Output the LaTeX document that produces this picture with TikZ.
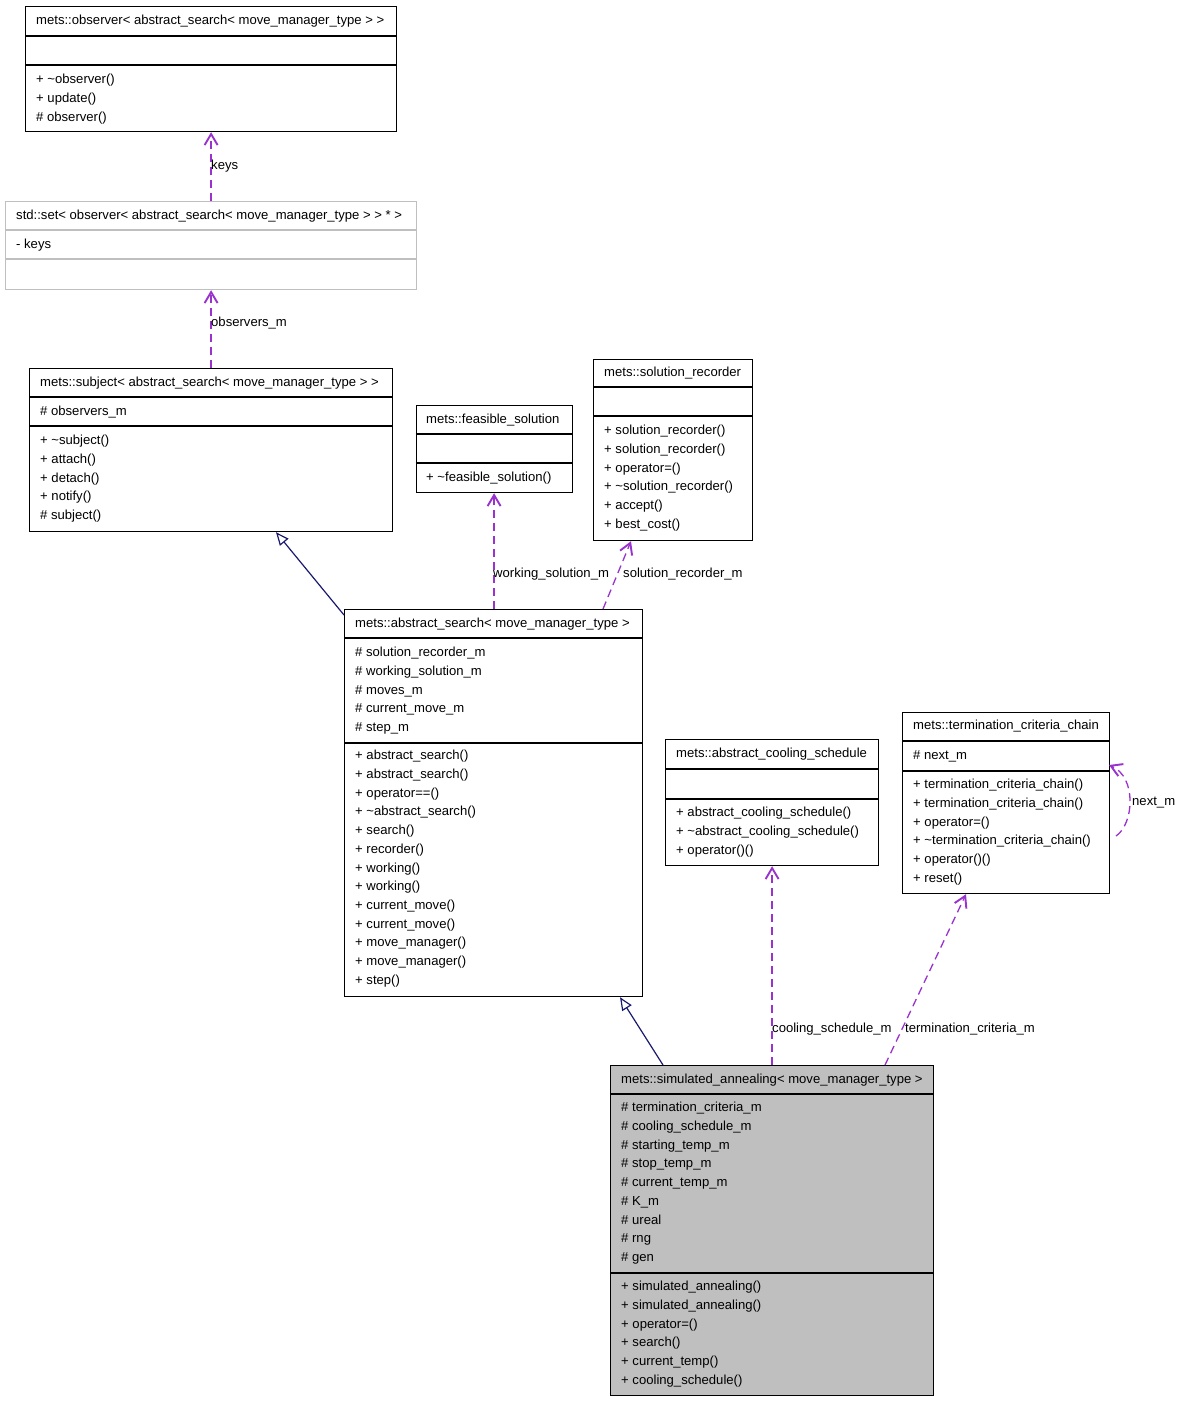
\documentclass[tikz,border=0pt]{standalone}
\usepackage{fontspec}
\setmainfont{Liberation Sans}
\usetikzlibrary{arrows.meta}
\definecolor{deppurple}{HTML}{9A32CD}
\definecolor{inhnavy}{HTML}{191970}
\definecolor{boxgray}{HTML}{BFBFBF}
\tikzset{
  classbox/.style={draw=black, line width=1.2pt, rectangle, inner sep=0pt, anchor=north west},
  graybox/.style={classbox, draw=boxgray},
  sepline/.style={line width=1.2pt, black},
  graysep/.style={line width=1.2pt, boxgray},
  txt/.style={anchor=west, inner sep=0pt, yshift=-1.5pt, text height=9.4pt, text depth=2.8pt, font=\fontsize{13.1}{15}\selectfont},
  deplabel/.style={txt},
  dep/.style={deppurple, line width=1.3pt, dash pattern=on 8pt off 5pt,
    -{Straight Barb[length=11pt,width=13pt,line width=1.9pt]}},
  inh/.style={inhnavy, line width=1.2pt, -{Triangle[open,fill=white,length=13pt,width=11pt,line width=1.2pt]}}
}
\newcommand\seprule[3][sepline]{\draw[#1] (#2.west |- 0,#3) -- (#2.east |- 0,#3);}
\newcommand\rowlist[4]{\foreach \t [count=\i from 0] in {#4} \node[txt] (#1-\i) at (#2,{#3+18.7*\i}) {\t};}
\begin{document}
\begin{tikzpicture}[x=1pt,y=-1pt]
\useasboundingbox (0,0) rectangle (1181,1403);

% observer
\node[classbox, minimum width=371pt, minimum height=125pt] (obs) at (25,6) {};
\seprule{obs}{36}\seprule{obs}{65}
\node[txt] (obs-title) at (36,20) {mets::observer< abstract\_search< move\_manager\_type > >};
\rowlist{obsm}{36}{79}{+ \textasciitilde{}observer(), + update(), \# observer()}

% std::set
\node[graybox, minimum width=411pt, minimum height=88pt] (set) at (5,201) {};
\seprule[graysep]{set}{230}\seprule[graysep]{set}{259}
\node[txt] (set-title) at (16,215) {std::set< observer< abstract\_search< move\_manager\_type > > * >};
\node[txt] (set-a) at (16,244) {- keys};

% subject
\node[classbox, minimum width=363pt, minimum height=163pt] (subj) at (29,368) {};
\seprule{subj}{397}\seprule{subj}{426}
\node[txt] (subj-title) at (40,382) {mets::subject< abstract\_search< move\_manager\_type > >};
\node[txt] (subj-a) at (40,411) {\# observers\_m};
\rowlist{subjm}{40}{440}{+ \textasciitilde{}subject(), + attach(), + detach(), + notify(), \# subject()}

% feasible_solution
\node[classbox, minimum width=156pt, minimum height=87pt] (feas) at (415.5,405) {};
\seprule{feas}{434}\seprule{feas}{463}
\node[txt] (feas-title) at (426,419) {mets::feasible\_solution};
\node[txt] (feas-m) at (426,477) {+ \textasciitilde{}feasible\_solution()};

% solution_recorder
\node[classbox, minimum width=159pt, minimum height=181pt] (sr) at (593,359) {};
\seprule{sr}{387}\seprule{sr}{416}
\node[txt] (sr-title) at (604,372) {mets::solution\_recorder};
\rowlist{srm}{604}{430}{+ solution\_recorder(), + solution\_recorder(), + operator=(), + \textasciitilde{}solution\_recorder(), + accept(), + best\_cost()}

% abstract_search
\node[classbox, minimum width=298pt, minimum height=387pt] (as) at (344,609) {};
\seprule{as}{638}\seprule{as}{743}
\node[txt] (as-title) at (355,623) {mets::abstract\_search< move\_manager\_type >};
\rowlist{asa}{355}{652}{\# solution\_recorder\_m, \# working\_solution\_m, \# moves\_m, \# current\_move\_m, \# step\_m}
\rowlist{asm}{355}{755}{+ abstract\_search(), + abstract\_search(), + operator==(), + \textasciitilde{}abstract\_search(), + search(), + recorder(), + working(), + working(), + current\_move(), + current\_move(), + move\_manager(), + move\_manager(), + step()}

% abstract_cooling_schedule
\node[classbox, minimum width=213pt, minimum height=126pt] (cool) at (665,739) {};
\seprule{cool}{769}\seprule{cool}{799}
\node[txt] (cool-title) at (676,753) {mets::abstract\_cooling\_schedule};
\rowlist{coolm}{676}{812}{+ abstract\_cooling\_schedule(), + \textasciitilde{}abstract\_cooling\_schedule(), + operator()()}

% termination_criteria_chain
\node[classbox, minimum width=207pt, minimum height=181pt] (term) at (902,712) {};
\seprule{term}{741}\seprule{term}{771}
\node[txt] (term-title) at (913,725) {mets::termination\_criteria\_chain};
\node[txt] (term-a) at (913,755) {\# next\_m};
\rowlist{termm}{913}{784}{+ termination\_criteria\_chain(), + termination\_criteria\_chain(), + operator=(), + \textasciitilde{}termination\_criteria\_chain(), + operator()(), + reset()}

% simulated_annealing
\node[classbox, fill=boxgray, minimum width=323pt, minimum height=330pt] (sim) at (610,1065) {};
\seprule{sim}{1094}\seprule{sim}{1273}
\node[txt] (sim-title) at (621,1079) {mets::simulated\_annealing< move\_manager\_type >};
\rowlist{sima}{621}{1107}{\# termination\_criteria\_m, \# cooling\_schedule\_m, \# starting\_temp\_m, \# stop\_temp\_m, \# current\_temp\_m, \# K\_m, \# ureal, \# rng, \# gen}
\rowlist{simm}{621}{1286}{+ simulated\_annealing(), + simulated\_annealing(), + operator=(), + search(), + current\_temp(), + cooling\_schedule()}

% connectors
\draw[dep] (set.north) -- (obs.south);
\node[deplabel] (l-keys) at (211,165) {keys};
\draw[dep] (subj.north) -- (set.south);
\node[deplabel] (l-obs) at (211,322) {observers\_m};
\draw[inh] ([yshift=-6pt]as.north west) -- ([xshift=247pt]subj.south west);
\draw[dep] (as.north -| feas.south) -- (feas.south);
\node[deplabel] (l-ws) at (493,573) {working\_solution\_m};
\draw[dep] ([xshift=259pt]as.north west) -- ([xshift=38pt]sr.south west);
\node[deplabel] (l-sr) at (623,573) {solution\_recorder\_m};
\draw[inh] ([xshift=53pt]sim.north west) -- ([xshift=276pt]as.south west);
\draw[dep] (sim.north) -- (sim.north |- cool.south);
\node[deplabel] (l-cs) at (772,1028) {cooling\_schedule\_m};
\draw[dep] ([xshift=275pt]sim.north west) -- ([xshift=64pt]term.south west);
\node[deplabel] (l-tc) at (905,1028) {termination\_criteria\_m};
\coordinate (loopA) at (1116,836);
\coordinate (loopB) at (1109,765);
\draw[dep] (loopA) .. controls (1134,824) and (1137,777) .. (loopB);
\node[deplabel] (l-next) at (1132,801) {next\_m};
\end{tikzpicture}
\end{document}
